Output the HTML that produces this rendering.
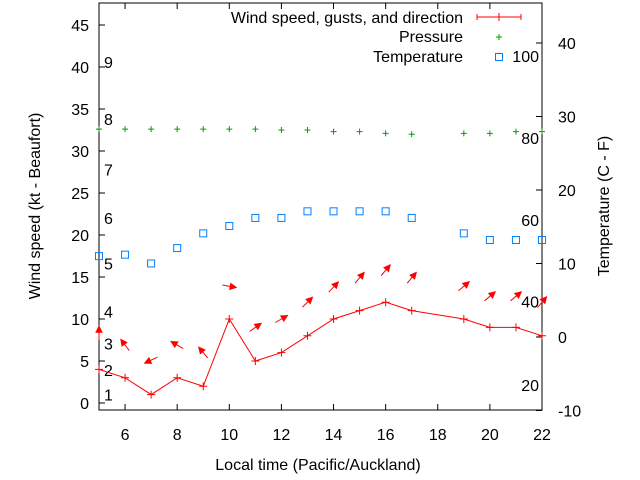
<!DOCTYPE html>
<html><head><meta charset="utf-8"><style>
body{margin:0;background:#fff}
svg{display:block;font-family:"Liberation Sans",sans-serif;font-size:16px}
</style></head><body>
<svg id="c" width="640" height="480"></svg>
<script>
const hours=[5,6,7,8,9,10,11,12,13,14,15,16,17,19,20,21,22];
const speed=[4,3,1,3,2,10,5,6,8,10,11,12,11,10,9,9,8];
const gust=[8.3,6.9,5.1,6.9,6,13.9,9,10,12,13.8,14.9,15.8,14.9,13.9,12.7,12.7,12];
const dirAngle=[90,127,205,150,130,-10,35,30,45,47,50,50,50,40,40,40,50];
const pressure=[32.6,32.6,32.6,32.6,32.6,32.6,32.6,32.5,32.5,32.3,32.3,32.1,32.0,32.1,32.1,32.3,32.3];
const temperature=[11,11.2,10,12.1,14.1,15.1,16.2,16.2,17.1,17.1,17.1,17.1,16.2,14.1,13.2,13.2,13.2];
const xTicks=[6,8,10,12,14,16,18,20,22];
const yTicks=[0,5,10,15,20,25,30,35,40,45];
const y2Ticks=[-10,0,10,20,30,40];
const beaufort=[["1",1],["2",3.9],["3",7.1],["4",10.9],["5",16.6],["6",22],["7",27.8],["8",33.8],["9",40.6]];
const fahr=[["100",38.2],["80",27.1],["60",15.9],["40",4.8],["20",-6.5]];
const L=99,R=542,T=3,B=410;
const X=h=>L+(h-5)*(R-L)/17;
const Y=v=>403-v*8.4;
const Y2=v=>337-v*7.35;
const svg=document.getElementById('c');const NS='http://www.w3.org/2000/svg';
function mk(t,a,p){const e=document.createElementNS(NS,t);for(const k in a)e.setAttribute(k,a[k]);(p||svg).appendChild(e);return e;}
function txt(s,x,y,anchor,name,extra){const e=mk('text',Object.assign({x:x,y:y,'text-anchor':anchor,fill:'#000'},extra||{}));e.textContent=s;

return e;}
const frame=mk('rect',{x:L,y:T,width:R-L,height:B-T,fill:'none',stroke:'#000','stroke-width':1});


xTicks.forEach(t=>{const x=X(t);mk('line',{x1:x,x2:x,y1:B,y2:B-6,stroke:'#000'});mk('line',{x1:x,x2:x,y1:T,y2:T+6,stroke:'#000'});
txt(String(t),x,B+30,'middle','x-tick-label');});
yTicks.forEach(t=>{const y=Y(t);mk('line',{x1:L,x2:L+6,y1:y,y2:y,stroke:'#000'});txt(String(t),L-10,y+6,'end','y-tick-label');});
y2Ticks.forEach(t=>{const y=Y2(t);mk('line',{x1:R,x2:R-6,y1:y,y2:y,stroke:'#000'});txt(String(t),R+16,y+6,'start','y2-tick-label');});
beaufort.forEach(b=>txt(b[0],104,Y(b[1])+6,'start','beaufort-label'));
fahr.forEach(f=>txt(f[0],539,Y2(f[1])+6,'end','fahrenheit-label'));
txt('Local time (Pacific/Auckland)',318,470,'middle','x-axis-title');
txt('Wind speed (kt - Beaufort)',40,206,'middle','y-axis-title',{transform:'rotate(-90 40 206)'});
txt('Temperature (C - F)',609,206,'middle','y2-axis-title',{transform:'rotate(-90 609 206)'});
const gp=mk('g',{stroke:'#00a000','stroke-width':1});


hours.forEach((h,i)=>{const x=X(h),y=Y(pressure[i]);mk('path',{d:`M${x-3} ${y}h6M${x} ${y-3}v6`},gp);});
const gt=mk('g',{stroke:'#0080ff','stroke-width':1,fill:'none'});


hours.forEach((h,i)=>{const x=X(h),y=Y2(temperature[i]);mk('rect',{x:x-3.5,y:y-3.5,width:7,height:7},gt);});
const gw=mk('g',{stroke:'#f00','stroke-width':1,fill:'none'});


mk('polyline',{points:hours.map((h,i)=>X(h)+','+Y(speed[i])).join(' ')},gw);
hours.forEach((h,i)=>{const x=X(h),y=Y(speed[i]);mk('path',{d:`M${x-4} ${y}h8M${x} ${y-4}v8`},gw);});
const ga=mk('g',{stroke:'#f00','stroke-width':1,fill:'#f00'});


hours.forEach((h,i)=>{const cx=X(h),cy=Y(gust[i]),a=dirAngle[i]*Math.PI/180,dx=Math.cos(a),dy=-Math.sin(a),l=7;
const hx=cx+dx*l,hy=cy+dy*l,tx=cx-dx*l,ty=cy-dy*l;
mk('line',{x1:tx,y1:ty,x2:hx,y2:hy},ga);
const px=-dy,py=dx;
mk('polygon',{points:`${hx},${hy} ${hx-dx*6+px*3},${hy-dy*6+py*3} ${hx-dx*6-px*3},${hy-dy*6-py*3}`},ga);});
txt('Wind speed, gusts, and direction',463,23,'end','legend-wind-label');
txt('Pressure',463,42,'end','legend-pressure-label');
txt('Temperature',463,62,'end','legend-temperature-label');
const lg=mk('g',{});


mk('path',{d:'M477 17h44M477 14v6M521 14v6M499 13v8',stroke:'#f00',fill:'none'},lg);
mk('path',{d:'M496 37h6M499 34v6',stroke:'#00a000',fill:'none'},lg);
mk('rect',{x:495.5,y:53.5,width:7,height:7,stroke:'#0080ff',fill:'none'},lg);
</script>
</body></html>
